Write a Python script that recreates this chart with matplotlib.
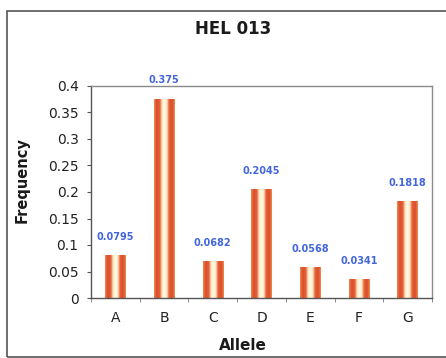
import numpy as np
import matplotlib
matplotlib.use("Agg")
import matplotlib.pyplot as plt
from matplotlib.colors import LinearSegmentedColormap
from matplotlib.patches import Rectangle

alleles = ["A", "B", "C", "D", "E", "F", "G"]
frequency = [0.0795, 0.375, 0.0682, 0.2045, 0.0568, 0.0341, 0.1818]
value_labels = ["0.0795", "0.375", "0.0682", "0.2045", "0.0568", "0.0341", "0.1818"]
y_ticks = [0, 0.05, 0.1, 0.15, 0.2, 0.25, 0.3, 0.35, 0.4]
y_tick_labels = ["0", "0.05", "0.1", "0.15", "0.2", "0.25", "0.3", "0.35", "0.4"]

plt.rcParams["font.family"] = ["DejaVu Sans"]

fig = plt.figure(figsize=(4.46, 3.58), dpi=100)
W, H = 446, 358
ax = fig.add_axes([91 / W, 1 - 298 / H, (432 - 91) / W, (298 - 86) / H])

# cylinder-like shading across each bar
bar_cmap = LinearSegmentedColormap.from_list(
    "bar_shade",
    [(0.0, "#ee8a4c"), (0.12, "#dc4d2c"), (0.28, "#e2603a"), (0.38, "#fde6bc"),
     (0.5, "#fffbee"), (0.62, "#fde6bc"), (0.72, "#e2603a"), (0.88, "#dc4d2c"),
     (1.0, "#ee8a4c")],
)
grad = np.linspace(0, 1, 64).reshape(1, -1)
bar_w = 0.42
x = np.arange(len(alleles))
bars = ax.bar(x, frequency, width=bar_w, color="none", edgecolor="none")
for b in bars:
    x0, w, h = b.get_x(), b.get_width(), b.get_height()
    ax.imshow(grad, cmap=bar_cmap, aspect="auto", interpolation="bilinear",
              extent=(x0, x0 + w, 0, h), zorder=2)

for xi, v, lab in zip(x, frequency, value_labels):
    ax.annotate(lab, (xi, v), xytext=(0, 13.5), textcoords="offset points",
                ha="center", va="center", fontsize=7, fontweight="bold",
                color="#4466dc", zorder=4, annotation_clip=False)

ax.set_xlim(-0.5, len(alleles) - 0.5)
ax.set_ylim(0, 0.4)
ax.set_yticks(y_ticks)
ax.set_yticklabels(y_tick_labels, fontsize=10, color="#222222")
ax.set_xticks(x)
ax.set_xticklabels(alleles, fontsize=10, color="#222222")
ax.set_xticks(np.arange(-0.5, len(alleles)), minor=True)
ax.tick_params(axis="x", which="major", length=0, pad=9)
ax.tick_params(axis="x", which="minor", length=3, color="#777777", direction="out")
ax.tick_params(axis="y", length=3, color="#555555", direction="out", pad=6)

for side in ["left", "bottom"]:
    ax.spines[side].set_color("#555555")
    ax.spines[side].set_linewidth(1.0)
for side in ["top", "right"]:
    ax.spines[side].set_color("#8a8a8a")
    ax.spines[side].set_linewidth(1.0)

fig.text(233 / W, 1 - 29 / H, "HEL 013", ha="center", va="center",
         fontsize=12, fontweight="bold", color="#1a1a1a")
fig.text(22 / W, 1 - 180 / H, "Frequency", ha="center", va="center",
         rotation=90, fontsize=10.5, fontweight="bold", color="#1a1a1a")
fig.text(243 / W, 1 - 345 / H, "Allele", ha="center", va="center",
         fontsize=11, fontweight="bold", color="#1a1a1a")

# outer chart frame
fig.patches.append(Rectangle((7 / W, 1 / H), 1.2, 1 - 12 / H,
                             transform=fig.transFigure, fill=False,
                             edgecolor="#555555", linewidth=1.2))

fig.savefig("out.png", dpi=100)
